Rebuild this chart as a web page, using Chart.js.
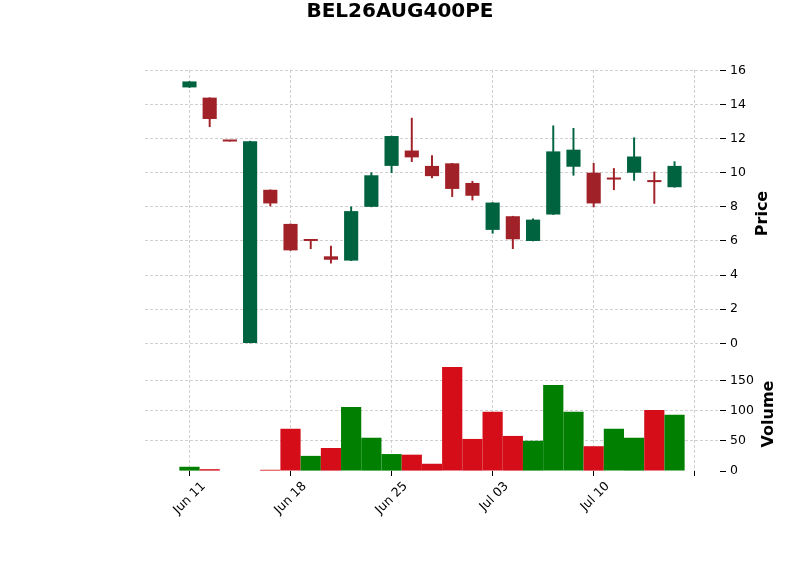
<!DOCTYPE html>
<html><head><meta charset="utf-8">
<script src="https://cdn.jsdelivr.net/npm/chart.js@4.4.1/dist/chart.umd.min.js"></script>
<style>html,body{margin:0;padding:0;background:#fff}#wrap{width:800px;height:575px}</style>
</head><body><div id="wrap"><canvas id="c" width="800" height="575"></canvas></div>
<script>
const chartTitle = 'BEL26AUG400PE';
const dates = ['Jun 11','Jun 12','Jun 15','Jun 16','Jun 17','Jun 18','Jun 19','Jun 22','Jun 23','Jun 24',
               'Jun 25','Jun 26','Jun 29','Jun 30','Jul 01','Jul 03','Jul 06','Jul 07','Jul 08','Jul 09',
               'Jul 10','Jul 13','Jul 14','Jul 15','Jul 16'];
const open   = [15.0, 14.4, 11.85, 0.0, 9.0, 7.0, 6.02, 5.1, 4.85, 8.0, 10.4, 11.3, 10.4, 10.55, 9.4, 6.65, 7.45, 6.0, 7.55, 10.35, 10.0, 9.62, 10.0, 9.5, 9.15];
const high   = [15.35, 14.4, 11.85, 11.85, 9.0, 7.0, 6.02, 5.7, 8.0, 10.0, 12.15, 13.2, 11.0, 10.55, 9.5, 8.25, 7.45, 7.3, 12.75, 12.6, 10.55, 10.25, 12.05, 10.05, 10.65];
const low    = [15.0, 12.7, 11.85, 0.0, 8.05, 5.45, 5.55, 4.7, 4.85, 8.0, 10.0, 10.65, 9.7, 8.6, 8.4, 6.45, 5.55, 6.0, 7.55, 9.85, 8.0, 9.0, 9.55, 8.2, 9.15];
const close  = [15.35, 13.15, 11.83, 11.85, 8.2, 5.45, 6.0, 4.9, 7.75, 9.85, 12.15, 10.9, 9.8, 9.05, 8.65, 8.25, 6.1, 7.25, 11.25, 11.35, 8.2, 9.6, 10.95, 9.45, 10.4];
const volume = [7, 3, 0, 0, 2, 70, 25, 38, 106, 55, 28, 27, 12, 172, 53, 98, 58, 50, 142, 98, 41, 70, 55, 101, 93];
const tickIdx = [0, 5, 10, 15, 20, 25];
const tickLabels = ['Jun 11', 'Jun 18', 'Jun 25', 'Jul 03', 'Jul 10', ''];

const FONT = 'DejaVu Sans';
const UP = '#006340', DOWN = '#A02128', VUP = '#007f00', VDOWN = '#d50d18';
const GRID = '#c4c4c4';

const candleColors = open.map((o, i) => close[i] >= o ? UP : DOWN);
const volColors = close.map((c, i) => (i === 0 || c >= close[i - 1]) ? VUP : VDOWN);
const bodies = open.map((o, i) => ({x: i, y: [o, close[i]]}));
const wicks = high.map((h, i) => ({x: i, y: [low[i], h]}));
const vols = volume.map((v, i) => ({x: i, y: v}));

const bgPlugin = {
  id: 'bg',
  beforeDraw(chart) {
    const c = chart.ctx; c.save(); c.fillStyle = '#fff';
    c.fillRect(0, 0, chart.width, chart.height); c.restore();
  }
};
const axisTitles = {
  id: 'axisTitles',
  afterDraw(chart) {
    const c = chart.ctx;
    const items = [['Price', chart.scales.y, 47], ['Volume', chart.scales.yv, 53]];
    c.save();
    c.fillStyle = '#000';
    c.font = 'bold 16px "' + FONT + '"';
    c.textAlign = 'center';
    c.textBaseline = 'alphabetic';
    items.forEach(([t, s, dx]) => {
      c.save();
      c.translate(chart.chartArea.right + dx, (s.top + s.bottom) / 2);
      c.rotate(-Math.PI / 2);
      c.fillText(t, 0, 0);
      c.restore();
    });
    c.restore();
  }
};

const tickFont = {family: FONT, size: 12.5};
new Chart(document.getElementById('c'), {
  type: 'bar',
  data: {
    datasets: [
      {label: 'body', data: bodies, backgroundColor: candleColors, barPercentage: 0.7, categoryPercentage: 1,
       grouped: false, minBarLength: 2, yAxisID: 'y'},
      {label: 'wick', data: wicks, backgroundColor: candleColors, barThickness: 1.3, grouped: false, yAxisID: 'y'},
      {label: 'volume', data: vols, backgroundColor: volColors, barPercentage: 1, categoryPercentage: 1,
       grouped: false, inflateAmount: 0, yAxisID: 'yv'}
    ]
  },
  options: {
    responsive: false,
    animation: false,
    layout: {padding: {left: 0, right: 0, top: 0, bottom: 0}},
    plugins: {
      legend: {display: false},
      tooltip: {enabled: false},
      title: {display: true, text: chartTitle, color: '#000',
              font: {family: FONT, size: 20, weight: 'bold'}, padding: {top: 0, bottom: 46}}
    },
    scales: {
      x: {
        type: 'linear', min: -2.2, max: 26.25, offset: false,
        grid: {offset: false, color: GRID, lineWidth: 0.8, tickColor: '#000', tickLength: 5, tickBorderDash: [], tickWidth: 1},
        border: {display: false, dash: [3, 2]},
        afterBuildTicks: s => { s.ticks = tickIdx.map(v => ({value: v})); },
        ticks: {autoSkip: false, minRotation: 45, maxRotation: 45, color: '#000', font: tickFont, padding: 3, labelOffset: 14,
                callback: (v, i) => tickLabels[i] ?? ''},
        afterFit: s => { s.height = 104; }
      },
      yl: {
        type: 'linear', position: 'left', min: 0, max: 1,
        ticks: {display: false}, grid: {display: false}, border: {display: false},
        afterFit: s => { s.width = 145; }
      },
      y: {
        type: 'linear', position: 'right', stack: 'main', stackWeight: 287,
        min: -0.8, max: 16.02,
        ticks: {stepSize: 2, includeBounds: false, color: '#000', font: tickFont, padding: 4},
        grid: {color: GRID, lineWidth: 0.8, tickColor: '#000', tickLength: 6, tickBorderDash: [], tickWidth: 1},
        border: {display: false, dash: [3, 2]},
        afterFit: s => { s.width = 80; }
      },
      yv: {
        type: 'linear', position: 'right', stack: 'main', stackWeight: 114,
        min: 0, max: 188.5,
        ticks: {stepSize: 50, includeBounds: false, color: '#000', font: tickFont, padding: 4},
        grid: {color: c => (c.tick && c.tick.value === 0) ? 'rgba(0,0,0,0)' : GRID, lineWidth: 0.8,
               tickColor: '#000', tickLength: 6, tickBorderDash: [], tickWidth: 1},
        border: {display: false, dash: [3, 2]},
        afterFit: s => { s.width = 80; }
      }
    }
  },
  plugins: [bgPlugin, axisTitles]
});
</script>
</body></html>
